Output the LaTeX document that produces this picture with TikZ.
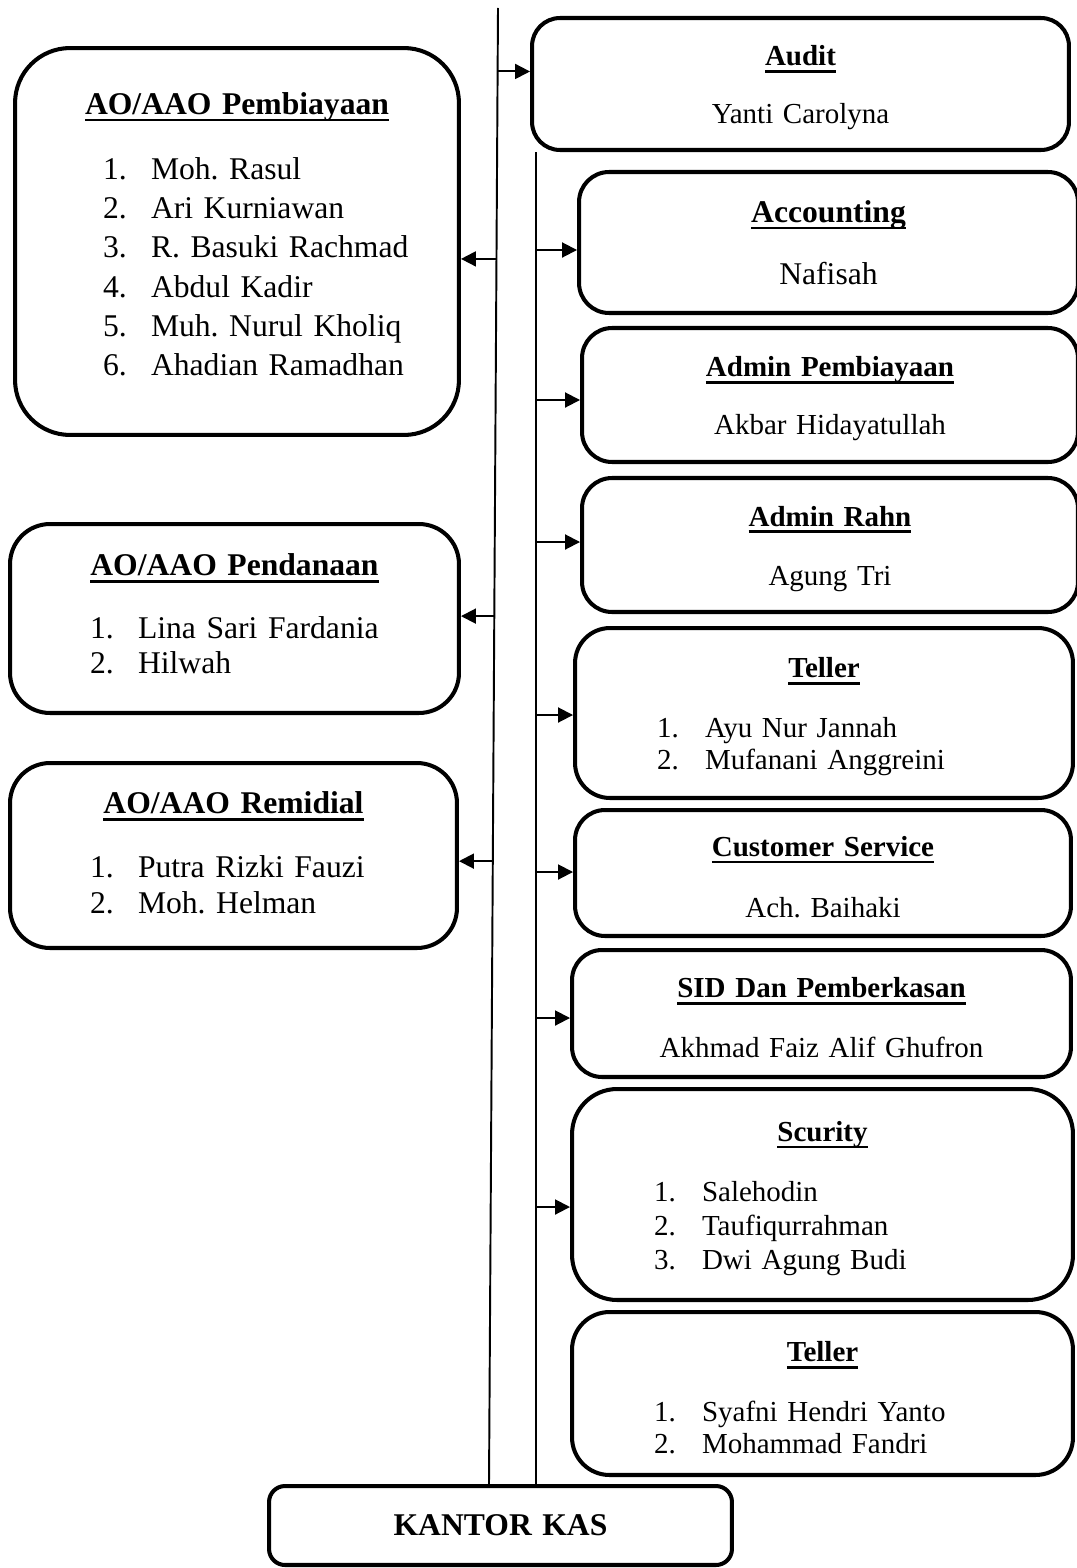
\documentclass[tikz,border=0pt]{standalone}
\usepackage{fontspec}
\setmainfont{Liberation Serif}
\usetikzlibrary{arrows.meta, positioning, calc}
\frenchspacing

% underlined bold heading and numbered list line
\newdimen\hdstrut
\hdstrut=16pt
\newcommand{\hd}[1]{{\rule{0pt}{\hdstrut}\setbox0\hbox{\bfseries #1}\rlap{\rule[-4pt]{\wd0}{1.5pt}}\box0}}
\newdimen\lind
\lind=1.64cm
\newcommand{\itm}[2]{\noindent\hbox to\hsize{\hskip\lind\makebox[0.96cm][l]{#1}#2\hss}}

\begin{document}
\begin{tikzpicture}[
    x=0.02cm, y=-0.02cm,
    box/.style={rectangle, draw, line width=2.3pt, rounded corners=0.6cm, align=center,
        inner xsep=0pt, inner ysep=0pt, font=\fontsize{16.5}{19}\selectfont},
    boxsize/.style 2 args={minimum width=#1, text width=#1, minimum height=#2},
    listindent/.style={execute at begin node={\lind=#1}},
    nostrut/.style={execute at begin node={\hdstrut=0pt}},
    lift/.style={execute at end node={\rule[-#1]{0pt}{0pt}}},
    line/.style={line width=1.1pt},
    arrow/.style={-{Triangle[length=3mm, width=3mm]}, line width=1.1pt}
]
\useasboundingbox (0,0) rectangle (1076,1568);

% Left column
\node[box, boxsize={8.88cm}{7.74cm}, rounded corners=1.1cm, listindent=1.76cm, nostrut, lift=8.5pt,
    font=\fontsize{18}{22.4}\selectfont] (pemb) at (237,241.5) {\hd{AO/AAO Pembiayaan}\\[14.5pt]
    \itm{1.}{Moh. Rasul}\\ \itm{2.}{Ari Kurniawan}\\ \itm{3.}{R. Basuki Rachmad}\\
    \itm{4.}{Abdul Kadir}\\ \itm{5.}{Muh. Nurul Kholiq}\\ \itm{6.}{Ahadian Ramadhan}};
\node[box, boxsize={8.98cm}{3.78cm}, rounded corners=0.8cm, listindent=1.6cm, nostrut, lift=5.6pt,
    font=\fontsize{18}{19.8}\selectfont] (pend) at (234.5,618.5) {\hd{AO/AAO Pendanaan}\\[16pt]
    \itm{1.}{Lina Sari Fardania}\\ \itm{2.}{Hilwah}};
\node[box, boxsize={8.94cm}{3.7cm}, rounded corners=0.8cm, listindent=1.6cm, nostrut, lift=3.4pt,
    font=\fontsize{18}{20.4}\selectfont] (remi) at (233.5,855.5) {\hd{AO/AAO Remidial}\\[16pt]
    \itm{1.}{Putra Rizki Fauzi}\\ \itm{2.}{Moh. Helman}};

% Right column
\node[box, boxsize={10.74cm}{2.64cm}, rounded corners=0.56cm] (audit) at (800.5,84)
    {\hd{Audit}\\[14pt]Yanti Carolyna};
\node[box, boxsize={9.98cm}{2.82cm}, nostrut, font=\fontsize{18}{20.7}\selectfont] (acc) at (828.5,242.5)
    {\hd{Accounting}\\[14.5pt]Nafisah};
\node[box, boxsize={9.92cm}{2.68cm}] (admp) at (830,395)
    {\hd{Admin Pembiayaan}\\[14pt]Akbar Hidayatullah};
\node[box, boxsize={9.92cm}{2.68cm}] (rahn) at (830,545)
    {\hd{Admin Rahn}\\[15pt]Agung Tri};
\node[box, boxsize={9.96cm}{3.4cm}, rounded corners=0.7cm,
    font=\fontsize{16.5}{18.7}\selectfont] (tel) at (824,713)
    {\hd{Teller}\\[15pt]\itm{1.}{Ayu Nur Jannah}\\ \itm{2.}{Mufanani Anggreini}};
\node[box, boxsize={9.92cm}{2.52cm}] (cs) at (823,873)
    {\hd{Customer Service}\\[16pt]Ach. Baihaki};
\node[box, boxsize={9.98cm}{2.54cm}] (sid) at (821.5,1013.5)
    {\hd{SID Dan Pemberkasan}\\[15pt]Akhmad Faiz Alif Ghufron};
\node[box, boxsize={10.02cm}{4.22cm}, rounded corners=0.9cm,
    font=\fontsize{16.5}{19.3}\selectfont] (scur) at (822.5,1194.5)
    {\hd{Scurity}\\[15pt]\itm{1.}{Salehodin}\\ \itm{2.}{Taufiqurrahman}\\ \itm{3.}{Dwi Agung Budi}};
\node[box, boxsize={10.02cm}{3.26cm}, rounded corners=0.75cm,
    font=\fontsize{16.5}{18}\selectfont] (tel2) at (822.5,1393.5)
    {\hd{Teller}\\[16pt]\itm{1.}{Syafni Hendri Yanto}\\ \itm{2.}{Mohammad Fandri}};

% Bottom
\node[box, boxsize={9.26cm}{1.58cm}, rounded corners=0.32cm,
    font=\fontsize{18}{21}\selectfont\bfseries] (kas) at (500.5,1525.5) {KANTOR KAS};

% Vertical lines
\coordinate (ltop) at (498,8);
\coordinate (lbot) at (kas.north -| 489,0);
\coordinate (rtop) at (audit.south -| 536,0);
\coordinate (rbot) at (kas.north -| rtop);
\draw[line] (ltop) -- (lbot);
\draw[line] (rtop) -- (rbot);

% Arrows
\coordinate (la) at ($(ltop)!0.043!(lbot)$);
\coordinate (lb) at ($(ltop)!0.170!(lbot)$);
\coordinate (lc) at ($(ltop)!0.412!(lbot)$);
\coordinate (ld) at ($(ltop)!0.578!(lbot)$);
\draw[arrow] (la) -- (audit.west |- la);
\draw[arrow] (lb) -- (pemb.east |- lb);
\draw[arrow] (lc) -- (pend.east |- lc);
\draw[arrow] (ld) -- (remi.east |- ld);

\draw[arrow] (rtop |- 0,250) -- (acc.west |- 0,250);
\draw[arrow] (rtop |- 0,400) -- (admp.west |- 0,400);
\draw[arrow] (rtop |- 0,542) -- (rahn.west |- 0,542);
\draw[arrow] (rtop |- 0,715) -- (tel.west |- 0,715);
\draw[arrow] (rtop |- 0,872) -- (cs.west |- 0,872);
\draw[arrow] (rtop |- 0,1018) -- (sid.west |- 0,1018);
\draw[arrow] (rtop |- 0,1207) -- (scur.west |- 0,1207);

\end{tikzpicture}
\end{document}
